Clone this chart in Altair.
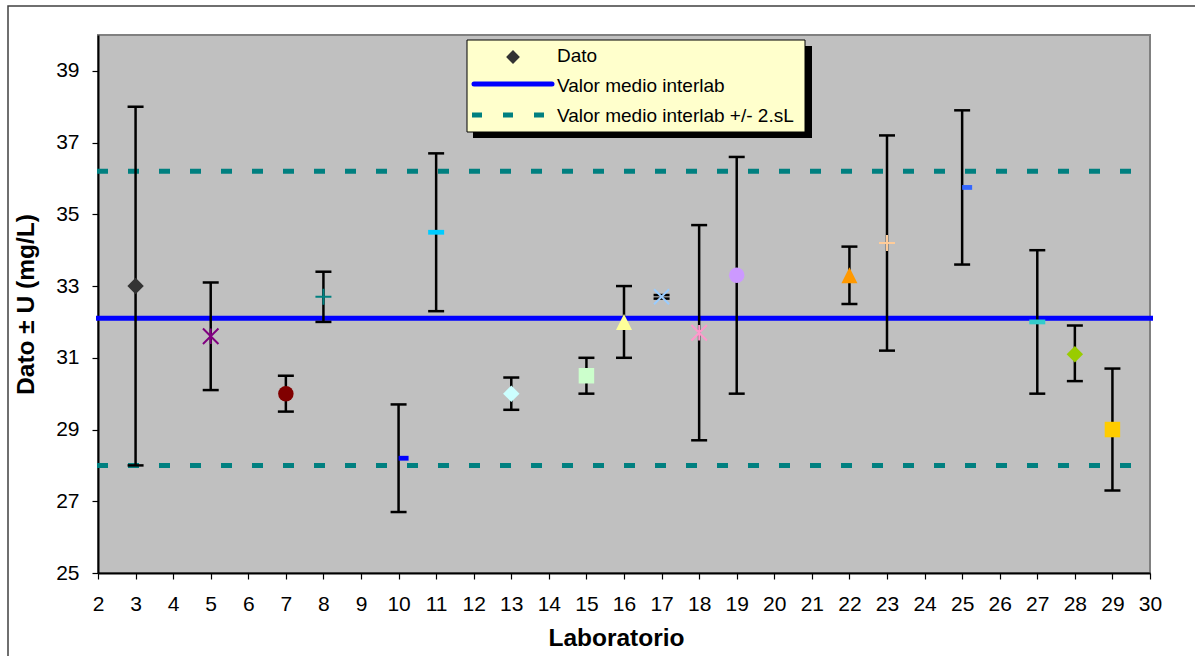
import altair as alt
import pandas as pd

# ---------------- data ----------------
labs = [3, 5, 7, 8, 10, 11, 13, 15, 16, 17, 18, 19, 22, 23, 25, 27, 28, 29]
values = [33.0, 31.6, 30.0, 32.7, 28.2, 34.5, 30.0, 30.5, 32.0, 32.7, 31.7, 33.3, 33.3, 34.2, 35.75, 32.0, 31.1, 29.0]
lower = [28.0, 30.1, 29.5, 32.0, 26.7, 32.3, 29.55, 30.0, 31.0, 32.65, 28.7, 30.0, 32.5, 31.2, 33.6, 30.0, 30.35, 27.3]
upper = [38.0, 33.1, 30.5, 33.4, 29.7, 36.7, 30.45, 31.0, 33.0, 32.75, 34.7, 36.6, 34.1, 37.2, 37.9, 34.0, 31.9, 30.7]
colors = ["#333333", "#800080", "#800000", "#008080", "#0000FF", "#00CCFF", "#CCFFFF", "#CCFFCC",
          "#FFFF99", "#99CCFF", "#FF99CC", "#CC99FF", "#FF9900", "#FFCC99", "#3366FF", "#33CCCC",
          "#99CC00", "#FFCC00"]
markers = ["diamond", "star", "circle", "cross", "halfdash", "dash", "diamond", "square",
           "triangle", "x", "star", "circle", "triangle", "cross", "halfdash", "dash",
           "diamond", "square"]

mean_value = 32.1
limit_values = [28.0, 36.2]

legend_labels = ["Dato", "Valor medio interlab", "Valor medio interlab +/- 2.sL"]
x_title = "Laboratorio"
y_title = "Dato ± U (mg/L)"
x_ticks = list(range(2, 31))
y_ticks = list(range(25, 40, 2))

# ---------------- marker styles ----------------
SHAPES = {
    "diamond": ("M0,-1L1,0L0,1L-1,0Z", 270, True),
    "circle": ("circle", 240, True),
    "square": ("M-1,-1L1,-1L1,1L-1,1Z", 240, True),
    "triangle": ("M0,-1L1,1L-1,1Z", 256, True),
    "dash": ("M-1,-0.3L1,-0.3L1,0.3L-1,0.3Z", 256, True),
    "halfdash": ("M0,-0.3L1.25,-0.3L1.25,0.3L0,0.3Z", 256, True),
    "cross": ("M-1,0L1,0M0,-1L0,1", 256, False),
    "x": ("M-1,-1L1,1M-1,1L1,-1", 225, False),
    "star": ("M-1,-1L1,1M-1,1L1,-1M0,-1L0,1", 240, False),
}

df = pd.DataFrame({"lab": labs, "value": values, "lower": lower, "upper": upper,
                   "color": colors, "marker": markers})
df["shape"] = df["marker"].map(lambda m: SHAPES[m][0])
df["size"] = df["marker"].map(lambda m: SHAPES[m][1])
df["filled"] = df["marker"].map(lambda m: SHAPES[m][2])

lines_df = pd.DataFrame({"value": limit_values})
mean_df = pd.DataFrame({"value": [mean_value]})
one = pd.DataFrame({"k": [0]})

W, H = 1052, 538
FONT = "Liberation Sans"

x_scale = alt.Scale(domain=[2, 30], nice=False, zero=False)
y_scale = alt.Scale(domain=[25, 40], nice=False, zero=False)
x_axis = alt.Axis(values=x_ticks, title=x_title, grid=False, tickSize=6, labelPadding=14,
                  labelFlush=False, labelOverlap=False, labelFont=FONT,
                  labelFontSize=21, titleFontSize=24.5, titleFontWeight="bold", titleFont=FONT,
                  titleX=518, titleY=72, titleBaseline="alphabetic",
                  domainColor="black", tickColor="black", labelColor="black", titleColor="black")
y_axis = alt.Axis(values=y_ticks, title=y_title, grid=False, tickSize=6, labelPadding=13,
                  labelFlush=False, labelOverlap=False, labelFont=FONT,
                  labelFontSize=21, titleFontSize=24.5, titleFontWeight="bold", titleFont=FONT,
                  titleX=-60, titleY=H / 2, titleBaseline="bottom",
                  domainColor="black", tickColor="black", labelColor="black", titleColor="black")


def X(field):
    return alt.X(field, type="quantitative", scale=x_scale, axis=x_axis)


def Y(field):
    return alt.Y(field, type="quantitative", scale=y_scale, axis=y_axis)


base = alt.Chart(df)

mean_line = alt.Chart(mean_df).mark_rule(color="#0000FF", strokeWidth=5).encode(
    y=Y("value"), x=alt.value(-2), x2=alt.value(W + 3))

limit_lines = alt.Chart(lines_df).mark_rule(color="#008080", strokeWidth=5, strokeDash=[11, 20]).encode(
    y=Y("value"), x=alt.value(-1), x2=alt.value(W))

err_bars = base.mark_rule(color="black", strokeWidth=2.5).encode(
    x=X("lab"), y=Y("lower"), y2="upper")
caps_low = base.mark_rule(color="black", strokeWidth=2.5, xOffset=-8, x2Offset=8).encode(
    x=X("lab"), x2="lab", y=Y("lower"))
caps_high = base.mark_rule(color="black", strokeWidth=2.5, xOffset=-8, x2Offset=8).encode(
    x=X("lab"), x2="lab", y=Y("upper"))

filled_pts = base.transform_filter("datum.filled").mark_point(
    filled=True, opacity=1, strokeWidth=0).encode(
    x=X("lab"), y=Y("value"),
    fill=alt.Fill("color:N", scale=None),
    shape=alt.Shape("shape:N", scale=None),
    size=alt.Size("size:Q", scale=None))

stroked_pts = base.transform_filter("!datum.filled").mark_point(
    filled=False, opacity=1, strokeWidth=2).encode(
    x=X("lab"), y=Y("value"),
    stroke=alt.Stroke("color:N", scale=None),
    shape=alt.Shape("shape:N", scale=None),
    size=alt.Size("size:Q", scale=None))

# ---------------- frame and legend ----------------
frame = alt.Chart(one).mark_rect(fill=None, stroke="#404040", strokeWidth=1.5).encode(
    x=alt.value(-90), x2=alt.value(1110), y=alt.value(-29), y2=alt.value(650))

leg_shadow = alt.Chart(one).mark_rect(fill="black").encode(
    x=alt.value(375), x2=alt.value(714), y=alt.value(11), y2=alt.value(103))
leg_box = alt.Chart(one).mark_rect(fill="#FFFFCC", stroke="black", strokeWidth=1).encode(
    x=alt.value(369), x2=alt.value(707), y=alt.value(5), y2=alt.value(97))
leg_sym = alt.Chart(one).mark_point(filled=True, opacity=1, strokeWidth=0, fill="#333333",
                                    shape=SHAPES["diamond"][0], size=190).encode(
    x=alt.value(415), y=alt.value(22))
leg_line = alt.Chart(one).mark_rule(color="#0000FF", strokeWidth=5, strokeCap="round").encode(
    x=alt.value(376), x2=alt.value(454), y=alt.value(49))
leg_dash = alt.Chart(one).mark_rule(color="#008080", strokeWidth=5, strokeDash=[10, 21]).encode(
    x=alt.value(374), x2=alt.value(448), y=alt.value(80))
leg_texts = [
    alt.Chart(one).mark_text(align="left", baseline="alphabetic", fontSize=19, color="black",
                             font=FONT).encode(
        x=alt.value(459), y=alt.value(yy), text=alt.value(lbl))
    for lbl, yy in zip(legend_labels, [27, 57, 87])
]

chart = alt.layer(
    frame, mean_line, limit_lines, err_bars, caps_low, caps_high, filled_pts, stroked_pts,
    leg_shadow, leg_box, leg_sym, leg_line, leg_dash, *leg_texts
).properties(
    width=W, height=H,
    autosize=alt.AutoSizeParams(type="none"),
    padding={"left": 98, "top": 35, "right": 45, "bottom": 83},
    background="white",
).configure(font=FONT).configure_view(
    fill="#C0C0C0", stroke="#808080", strokeWidth=2
).configure_axis(domainWidth=2, tickWidth=1.2)

chart.save("out.html", embed_options={"renderer": "svg", "actions": False})
